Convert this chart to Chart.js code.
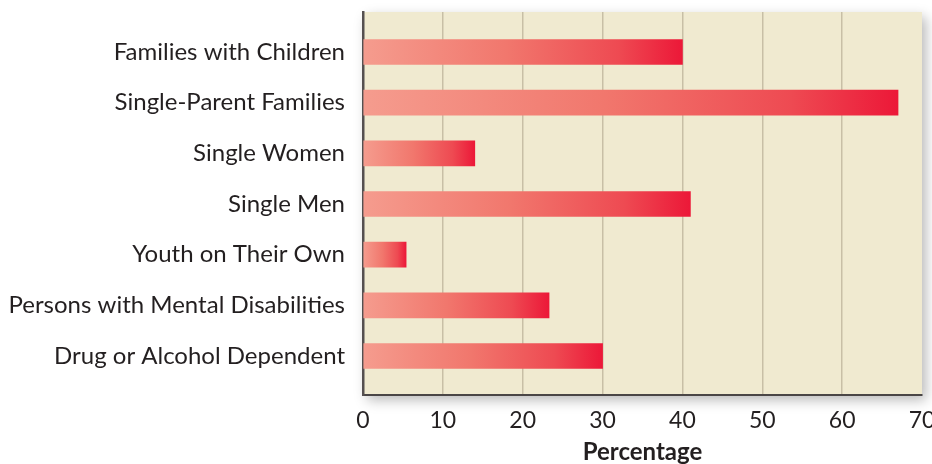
<!DOCTYPE html>
<html>
<head>
<meta charset="utf-8">
<script src="https://cdn.jsdelivr.net/npm/chart.js@4"></script>
<style>
  body { margin: 0; background: #ffffff; }
</style>
</head>
<body>
<canvas id="grafico" width="932" height="464"></canvas>
<script>
const categorias = [
    "Families with Children",
    "Single-Parent Families",
    "Single Women",
    "Single Men",
    "Youth on Their Own",
    "Persons with Mental Disabilities",
    "Drug or Alcohol Dependent"
];
const percentuais = [40, 67, 14, 41, 5.4, 23.3, 30];
const ticksX = [0, 10, 20, 30, 40, 50, 60, 70];

Chart.defaults.font.family = "Lato, 'Open Sans', sans-serif";
Chart.defaults.color = "#231f20";

// fundo bege da área do gráfico, com sombra à direita e embaixo
const fundoPlot = {
    id: 'fundoPlot',
    beforeDraw(chart) {
        const { ctx, chartArea: a } = chart;
        ctx.save();
        ctx.shadowColor = 'rgba(0, 0, 0, 0.28)';
        ctx.shadowBlur = 12;
        ctx.shadowOffsetX = 4;
        ctx.shadowOffsetY = 5;
        ctx.fillStyle = '#f0ead0';
        ctx.fillRect(a.left, a.top, a.right - a.left, a.bottom - a.top);
        ctx.restore();
    }
};

// cada barra tem seu próprio degradê, do salmão claro ao vermelho
function corBarra(context) {
    const chart = context.chart;
    if (!chart.chartArea || !context.raw) return '#f07068';
    const x = chart.scales.x;
    const x0 = x.getPixelForValue(0);
    const x1 = x.getPixelForValue(context.raw.x);
    const g = chart.ctx.createLinearGradient(x0, 0, x1, 0);
    g.addColorStop(0, '#f59c8e');
    g.addColorStop(0.45, '#f1776d');
    g.addColorStop(0.8, '#ee4a52');
    g.addColorStop(1, '#ec1838');
    return g;
}

const contexto = document.getElementById('grafico');

new Chart(contexto, {
    type: 'bar',
    data: {
        labels: categorias,
        datasets: [{
            data: percentuais.map((v, i) => ({ x: v, y: i })),
            backgroundColor: corBarra,
            borderWidth: 0,
            barThickness: 25
        }]
    },
    options: {
        indexAxis: 'y',
        responsive: false,
        animation: false,
        layout: { padding: { top: 12, right: 10, left: 0, bottom: 0 } },
        plugins: {
            legend: { display: false },
            tooltip: { enabled: false }
        },
        scales: {
            x: {
                type: 'linear',
                min: 0,
                max: 70,
                afterBuildTicks(scale) {
                    scale.ticks = ticksX.map(v => ({ value: v }));
                },
                afterFit(scale) {
                    scale.height = 69;
                    scale.paddingLeft = 0;
                    scale.paddingRight = 0;
                },
                grid: {
                    drawTicks: false,
                    lineWidth: 1.5,
                    color: (c) => (c.tick && (c.tick.value === 0 || c.tick.value === 70)) ? 'rgba(0,0,0,0)' : '#c8bfa6'
                },
                border: { display: true, color: '#4a4646', width: 2 },
                ticks: {
                    padding: 12,
                    font: { size: 23 },
                    color: '#231f20'
                },
                title: {
                    display: true,
                    text: 'Percentage',
                    font: { size: 24, weight: 'bold' },
                    color: '#231f20',
                    padding: { top: 0, bottom: -3 }
                }
            },
            y: {
                type: 'linear',
                reverse: true,
                offset: false,
                min: -0.79,
                max: 6.77,
                afterBuildTicks(scale) {
                    scale.ticks = categorias.map((_, i) => ({ value: i }));
                },
                afterFit(scale) {
                    scale.width = 363;
                    scale.paddingTop = 0;
                    scale.paddingBottom = 0;
                },
                grid: { display: false, offset: false },
                border: { display: true, color: '#555050', width: 2.5 },
                ticks: {
                    padding: 10,
                    font: { size: 24 },
                    color: '#231f20',
                    callback: (v) => categorias[Math.round(v)]
                }
            }
        }
    },
    plugins: [fundoPlot]
});
</script>
</body>
</html>
